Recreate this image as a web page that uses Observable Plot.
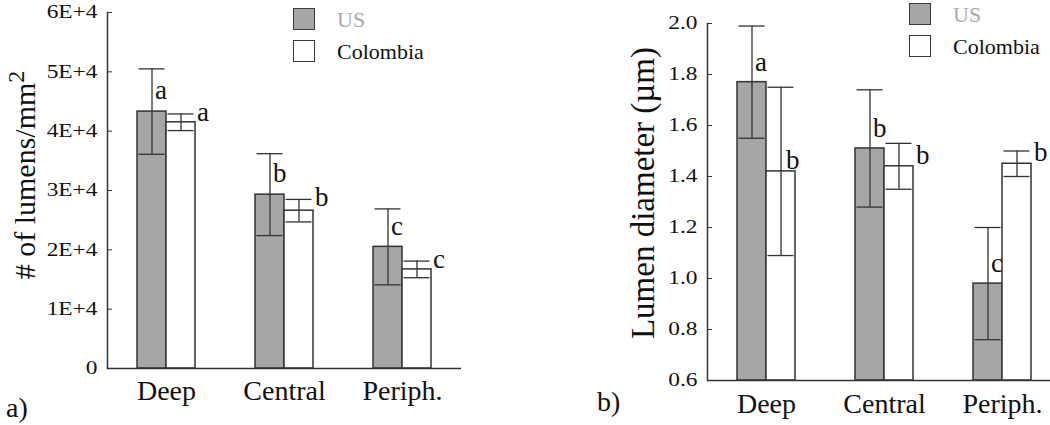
<!DOCTYPE html>
<html>
<head>
<meta charset="utf-8">
<script src="https://cdn.jsdelivr.net/npm/d3@7"></script>
<script src="https://cdn.jsdelivr.net/npm/@observablehq/plot@0.6"></script>
<style>
  html, body { margin: 0; padding: 0; background: #fff; }
  body { width: 1050px; height: 425px; overflow: hidden; font-family: "Liberation Serif", "Times New Roman", serif; }
  #root { position: relative; width: 1050px; height: 425px; overflow: hidden; }
  #root svg { max-width: none !important; }
  #root svg, #root svg text { font-family: "Liberation Serif", "Times New Roman", serif !important; }
  .abs { position: absolute; }
  .ytitle { position: absolute; text-align: center; white-space: nowrap; transform: rotate(-90deg); color: #111; }
  .swatch { position: absolute; box-sizing: border-box; border: 1.5px solid #3a3a3a; }
  .legtext { position: absolute; white-space: nowrap; line-height: 1; }
  .plabel { position: absolute; font-size: 28px; line-height: 1; color: #111; }
</style>
</head>
<body>
<div id="root"></div>
<script>
// ---------- data ----------
const regions = ["Deep", "Central", "Periph."];
const countries = ["US", "Colombia"];

// panel a: # of lumens / mm^2
const densityUS = [43300, 29300, 20500];
const densityUSErr = [7200, 6900, 6400];
const densityCO = [41500, 26600, 16700];
const densityCOErr = [1400, 1900, 1400];
const densityLettersUS = ["a", "b", "c"];
const densityLettersCO = ["a", "b", "c"];
const densityTicks = [0, 10000, 20000, 30000, 40000, 50000, 60000];
const densityTickLabels = ["0", "1E+4", "2E+4", "3E+4", "4E+4", "5E+4", "6E+4"];

// panel b: lumen diameter (µm)
const diamUS = [1.77, 1.51, 0.98];
const diamUSErr = [0.22, 0.23, 0.22];
const diamCO = [1.42, 1.44, 1.45];
const diamCOErr = [0.33, 0.09, 0.05];
const diamLettersUS = ["a", "b", "c"];
const diamLettersCO = ["b", "b", "b"];
const diamTicks = [0.6, 0.8, 1.0, 1.2, 1.4, 1.6, 1.8, 2.0];
const diamTickLabels = ["0.6", "0.8", "1.0", "1.2", "1.4", "1.6", "1.8", "2.0"];

// ---------- styling ----------
const GRAY = "#a6a6a6";
const INK = "#333333";
const FONT = '"Liberation Serif", "Times New Roman", serif';

function buildRows(us, usErr, co, coErr, lu, lc) {
  return regions.flatMap((r, i) => [
    {region: r, country: "US", mean: us[i], err: usErr[i], letter: lu[i]},
    {region: r, country: "Colombia", mean: co[i], err: coErr[i], letter: lc[i]}
  ]);
}

function chart(o) {
  const data = o.data;
  const base = o.ticks[0];
  const us = data.filter(d => d.country === "US");
  const co = data.filter(d => d.country === "Colombia");
  const coOut = co.filter(d => !o.coInside.includes(d.region));
  const coIn = co.filter(d => o.coInside.includes(d.region));
  const svg = Plot.plot({
    width: o.width, height: o.height,
    marginLeft: o.ml, marginRight: o.mr, marginTop: o.mt, marginBottom: o.mb,
    style: {fontFamily: FONT, background: "transparent", overflow: "visible", color: "#111"},
    fx: {domain: regions, paddingInner: 0, paddingOuter: 0, label: null, axis: null},
    x: {domain: countries, paddingInner: 0, paddingOuter: 1, axis: null},
    y: {domain: [o.ticks[0], o.ticks[o.ticks.length - 1]], label: null, axis: null},
    color: {domain: countries, range: [GRAY, "white"]},
    marks: [
      Plot.barY(data, {fx: "region", x: "country", y1: base, y2: "mean", fill: "country", stroke: INK, strokeWidth: 1.5}),
      Plot.ruleX(data, {fx: "region", x: "country", y1: d => d.mean - d.err, y2: d => d.mean + d.err, stroke: INK, strokeWidth: 1.3}),
      Plot.tickY(data, {fx: "region", x: "country", y: d => d.mean + d.err, insetLeft: 1.5, insetRight: 1.5, stroke: INK, strokeWidth: 1.3}),
      Plot.tickY(data, {fx: "region", x: "country", y: d => d.mean - d.err, insetLeft: 1.5, insetRight: 1.5, stroke: INK, strokeWidth: 1.3}),
      Plot.ruleY([base], {stroke: INK, strokeWidth: 1.5}),
      Plot.frame({anchor: "left", facetAnchor: "left", stroke: INK, strokeWidth: 1.5}),
      Plot.axisY({ticks: o.ticks, tickFormat: (d, i) => o.tickLabels[i], tickSize: -5, tickPadding: 15,
        fontSize: 18, stroke: INK, label: null}),
      Plot.axisFx({anchor: "bottom", tickSize: 0, tickPadding: o.fxPad, fontSize: 28, label: null}),
      Plot.text(us, {fx: "region", x: "country", y: "mean", text: "letter", textAnchor: "start",
        dx: o.usDx, dy: o.usDy, fontSize: 27, fill: "#111"}),
      Plot.text(coOut, {fx: "region", x: "country", y: o.coAt, text: "letter", textAnchor: "start",
        dx: o.coDx, dy: o.coDy, fontSize: 27, fill: "#111"}),
      Plot.text(coIn, {fx: "region", x: "country", y: o.coAt, text: "letter", textAnchor: "start",
        dx: o.coInDx, dy: o.coDy, fontSize: 27, fill: "#111"})
    ]
  });
  // the original's tick numerals are drawn slightly wide
  svg.querySelectorAll('g[aria-label="y-axis tick label"] text').forEach(t => {
    const tr = t.getAttribute("transform") || "";
    t.setAttribute("transform", tr + " scale(1.3,1)");
  });
  return svg;
}

const root = document.getElementById("root");

function place(el, left, top, w, h) {
  const wrap = document.createElement("div");
  wrap.className = "abs";
  wrap.style.left = left + "px";
  wrap.style.top = top + "px";
  wrap.style.width = w + "px";
  wrap.style.height = h + "px";
  wrap.appendChild(el);
  root.appendChild(wrap);
  return wrap;
}

// panel a
const chartA = chart({
  data: buildRows(densityUS, densityUSErr, densityCO, densityCOErr, densityLettersUS, densityLettersCO),
  ticks: densityTicks, tickLabels: densityTickLabels,
  width: 470, height: 425, ml: 107, mr: 9, mt: 12, mb: 57, fxPad: 12,
  usDx: 3, usDy: -21, coAt: d => d.mean + d.err, coDx: 16, coDy: -2, coInside: [], coInDx: 4
});
place(chartA, 0, 0, 470, 425);

// panel b
const chartB = chart({
  data: buildRows(diamUS, diamUSErr, diamCO, diamCOErr, diamLettersUS, diamLettersCO),
  ticks: diamTicks, tickLabels: diamTickLabels,
  width: 520, height: 425, ml: 146, mr: 18, mt: 23, mb: 45, fxPad: 13,
  usDx: 3, usDy: -20, coAt: "mean", coDx: 17, coDy: -11, coInside: ["Deep"], coInDx: 5
});
place(chartB, 560, 0, 520, 425);

// axis titles
function ytitle(html, cx, cy, size) {
  const d = document.createElement("div");
  d.className = "ytitle";
  const W = 400, H = 40;
  d.style.width = W + "px";
  d.style.height = H + "px";
  d.style.lineHeight = H + "px";
  d.style.left = (cx - W / 2) + "px";
  d.style.top = (cy - H / 2) + "px";
  d.style.fontSize = size + "px";
  d.innerHTML = html;
  root.appendChild(d);
}
ytitle('# of lumens/mm<sup style="font-size:0.8em;vertical-align:0.45em;line-height:0">2</sup>', 25, 175, 30);
ytitle('Lumen diameter (µm)', 643, 193, 33);

// legends
function legend(x, y0, y1) {
  const s1 = document.createElement("div");
  s1.className = "swatch";
  Object.assign(s1.style, {left: x + "px", top: y0 + "px", width: "22px", height: "22px", background: GRAY});
  root.appendChild(s1);
  const s2 = document.createElement("div");
  s2.className = "swatch";
  Object.assign(s2.style, {left: x + "px", top: y1 + "px", width: "22px", height: "22px", background: "white"});
  root.appendChild(s2);
  const t1 = document.createElement("div");
  t1.className = "legtext";
  t1.textContent = countries[0];
  Object.assign(t1.style, {left: (x + 44) + "px", top: (y0 + 1) + "px", fontSize: "22px", color: "#a9a9a9"});
  root.appendChild(t1);
  const t2 = document.createElement("div");
  t2.className = "legtext";
  t2.textContent = countries[1];
  Object.assign(t2.style, {left: (x + 44) + "px", top: (y1 + 1) + "px", fontSize: "22px", color: "#111"});
  root.appendChild(t2);
}
legend(293, 8, 40);
legend(909, 3, 35);

// panel labels
const la = document.createElement("div");
la.className = "plabel"; la.textContent = "a)";
Object.assign(la.style, {left: "6px", top: "394px"});
root.appendChild(la);
const lb = document.createElement("div");
lb.className = "plabel"; lb.textContent = "b)";
Object.assign(lb.style, {left: "597px", top: "388px"});
root.appendChild(lb);
</script>
</body>
</html>
